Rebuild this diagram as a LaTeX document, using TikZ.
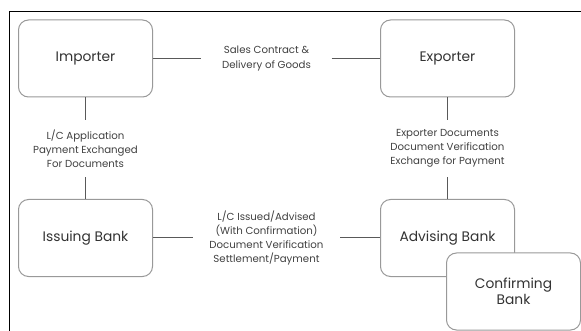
\documentclass[tikz,border=0pt]{standalone}
\usepackage{fontspec}
\setmainfont{Poppins}
\usetikzlibrary{positioning}

\begin{document}
\begin{tikzpicture}
    [
        x=1pt, y=-1pt, node distance=179.5pt and 362pt, on grid,
        party_node/.style={rectangle, rounded corners=10pt, draw=black!40, fill=white, line width=1pt, minimum width=134pt, minimum height=77pt, text=black!80, font=\fontsize{13.8}{16.5}\selectfont, align=center},
        note_node/.style={align=center, text=black!75, font=\fontsize{10.2}{14.2}\selectfont, inner sep=0pt, minimum width=130pt, minimum height=57pt},
        link/.style={draw=black!65, line width=1pt},
    ]
        \useasboundingbox (0,0) rectangle (581,331) ;
        \draw[line width=1pt, color=black] (9.5,331) -- (9.5,12) -- (581,12) ;
        \node[party_node] (importer) at (85.5,58.5) {Importer} ;
        \node[party_node] (exporter) [right = of importer] {Exporter} ;
        \node[party_node] (issuing) [below = of importer] {Issuing Bank} ;
        \node[party_node] (advising) [below = of exporter] {Advising Bank} ;
        \node[party_node] (confirming) [below right = 53.5pt and 66pt of advising] {Confirming\\Bank} ;
        \node[note_node] (contract) [right = 181pt of importer] {Sales Contract \&\\Delivery of Goods} ;
        \node[note_node] (application) [below = 90pt of importer] {L/C Application\\Payment Exchanged\\For Documents} ;
        \node[note_node] (documents) [below = 90pt of exporter] {Exporter Documents\\Document Verification\\Exchange for Payment} ;
        \node[note_node, minimum width=147pt] (issued) [right = 181pt of issuing] {L/C Issued/Advised\\(With Confirmation)\\Document Verification\\Settlement/Payment} ;
        \draw[link] (importer) -- (contract) ;
        \draw[link] (contract) -- (exporter) ;
        \draw[link] (importer) -- (application) ;
        \draw[link] (application) -- (issuing) ;
        \draw[link] (exporter) -- (documents) ;
        \draw[link] (documents) -- (advising) ;
        \draw[link] (issuing) -- (issued) ;
        \draw[link] (issued) -- (advising) ;
    \end{tikzpicture}
\end{document}
